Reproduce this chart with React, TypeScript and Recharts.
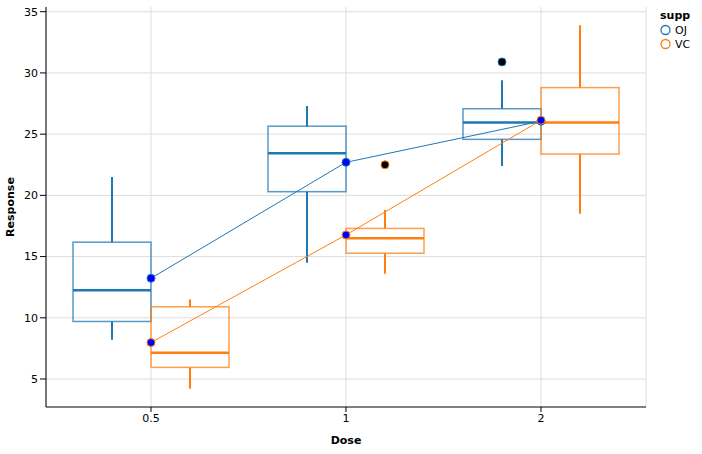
import { ComposedChart, Bar, Line, XAxis, YAxis, CartesianGrid } from "recharts";

// ToothGrowth summary
const doses = ["0.5", "1", "2"];

const ojMin = [8.2, 14.5, 22.4];
const ojQ1 = [9.7, 20.3, 24.575];
const ojMedian = [12.25, 23.45, 25.95];
const ojQ3 = [16.175, 25.65, 27.075];
const ojMax = [21.5, 27.3, 29.4];
const ojMean = [13.23, 22.7, 26.06];
const ojOutliers = [[], [], [30.9]];

const vcMin = [4.2, 13.6, 18.5];
const vcQ1 = [5.95, 15.275, 23.375];
const vcMedian = [7.15, 16.5, 25.95];
const vcQ3 = [10.9, 17.3, 28.8];
const vcMax = [11.5, 18.8, 33.9];
const vcMean = [7.98, 16.77, 26.14];
const vcOutliers = [[], [22.5], []];

const yTicks = [5, 10, 15, 20, 25, 30, 35];
const yDomain: [number, number] = [2.715, 35.385];

const OJ = "#1f77b4";
const VC = "#ff7f0e";

const rows = doses.map((dose, i) => ({
  dose,
  oj: { min: ojMin[i], q1: ojQ1[i], median: ojMedian[i], q3: ojQ3[i], max: ojMax[i], out: ojOutliers[i] },
  vc: { min: vcMin[i], q1: vcQ1[i], median: vcMedian[i], q3: vcQ3[i], max: vcMax[i], out: vcOutliers[i] },
  ojMean: ojMean[i],
  vcMean: vcMean[i],
}));

type Stats = { min: number; q1: number; median: number; q3: number; max: number; out: number[] };

// box drawn inside the bar rect that recharts gives for [q1, q3]
const makeBox = (key: "oj" | "vc", color: string) => (props: any) => {
  const { x = 0, y = 0, width = 0, height = 0, payload } = props;
  const s: Stats = payload[key];
  const top = Math.min(y, y + height);
  const h = Math.abs(height);
  const ppu = h / (s.q3 - s.q1);
  const toY = (v: number) => top + (s.q3 - v) * ppu;
  const cx = x + width / 2;
  return (
    <g>
      <line x1={cx} x2={cx} y1={toY(s.q3)} y2={toY(s.max)} stroke={color} strokeWidth={2} />
      <line x1={cx} x2={cx} y1={toY(s.q1)} y2={toY(s.min)} stroke={color} strokeWidth={2} />
      <rect x={x} y={top} width={width} height={h} fill="none" stroke={color} strokeOpacity={0.75} strokeWidth={1.5} />
      <line x1={x} x2={x + width} y1={toY(s.median)} y2={toY(s.median)} stroke={color} strokeWidth={2.5} />
      {s.out.map((v, i) => (
        <circle key={i} cx={cx} cy={toY(v)} r={4} fill="#000" stroke={color} strokeWidth={1} />
      ))}
    </g>
  );
};

const tickStyle = { fontSize: 11, fill: "#000", fontFamily: "DejaVu Sans" };

const Legend = () => (
  <div style={{ position: "absolute", left: 660, top: 9, fontFamily: "DejaVu Sans", fontSize: 11, color: "#000" }}>
    <div style={{ fontWeight: "bold", marginBottom: 1 }}>supp</div>
    {[
      ["OJ", OJ],
      ["VC", VC],
    ].map(([name, c]) => (
      <div key={name} style={{ display: "flex", alignItems: "center", height: 14 }}>
        <svg width={12} height={12} style={{ marginRight: 3 }}>
          <circle cx={5.5} cy={6} r={4.5} fill="none" stroke={c} strokeWidth={1.3} />
        </svg>
        {name}
      </div>
    ))}
  </div>
);

export default function App() {
  return (
    <div style={{ position: "absolute", left: 0, top: 0, width: 702, height: 454 }}>
      <ComposedChart
        width={702}
        height={454}
        data={rows}
        margin={{ top: 7, right: 56, left: 0, bottom: 0 }}
        barCategoryGap="10%"
        barGap={0}
        style={{ fontFamily: "DejaVu Sans" }}
      >
        <CartesianGrid
          xAxisId="main"
          yAxisId="main"
          stroke="#dddddd"
          horizontalValues={yTicks}
        />
        <XAxis
          xAxisId="outer"
          type="number"
          domain={[0, 1]}
          ticks={[0, 1]}
          allowDataOverflow
          height={0}
          axisLine={false}
          tickSize={6}
          tickLine={{ stroke: "#000" }}
          tickFormatter={() => ""}
        />
        <XAxis
          xAxisId="main"
          dataKey="dose"
          height={47}
          padding={{ left: 7.5, right: 7.5 }}
          axisLine={{ stroke: "#000" }}
          tickLine={{ stroke: "#000" }}
          tickSize={5}
          tick={tickStyle}
          label={{ value: "Dose", position: "insideBottom", offset: 10, style: { fontSize: 11, fontWeight: "bold", fill: "#000" } }}
        />
        <YAxis
          yAxisId="outer"
          type="number"
          domain={yDomain}
          ticks={yDomain}
          allowDataOverflow
          width={0}
          axisLine={false}
          tickSize={6}
          tickLine={{ stroke: "#000" }}
          tickFormatter={() => ""}
        />
        <YAxis
          yAxisId="main"
          type="number"
          domain={yDomain}
          ticks={yTicks}
          allowDataOverflow
          width={46}
          axisLine={{ stroke: "#000" }}
          tickLine={{ stroke: "#000" }}
          tickSize={6}
          tick={tickStyle}
          label={{ value: "Response", angle: -90, position: "insideLeft", offset: 10, style: { fontSize: 11, fontWeight: "bold", fill: "#000", textAnchor: "middle" } }}
        />
        <Bar
          xAxisId="main"
          yAxisId="main"
          dataKey={(d: any) => [d.oj.q1, d.oj.q3]}
          shape={makeBox("oj", OJ)}
          isAnimationActive={false}
        />
        <Bar
          xAxisId="main"
          yAxisId="main"
          dataKey={(d: any) => [d.vc.q1, d.vc.q3]}
          shape={makeBox("vc", VC)}
          isAnimationActive={false}
        />
        <Line
          xAxisId="main"
          yAxisId="main"
          dataKey="ojMean"
          stroke={OJ}
          strokeWidth={1}
          dot={{ r: 4, fill: "#0000ff", stroke: OJ, strokeWidth: 1 }}
          isAnimationActive={false}
        />
        <Line
          xAxisId="main"
          yAxisId="main"
          dataKey="vcMean"
          stroke={VC}
          strokeWidth={1}
          dot={{ r: 4, fill: "#0000ff", stroke: VC, strokeWidth: 1 }}
          isAnimationActive={false}
        />
      </ComposedChart>
      <Legend />
    </div>
  );
}
